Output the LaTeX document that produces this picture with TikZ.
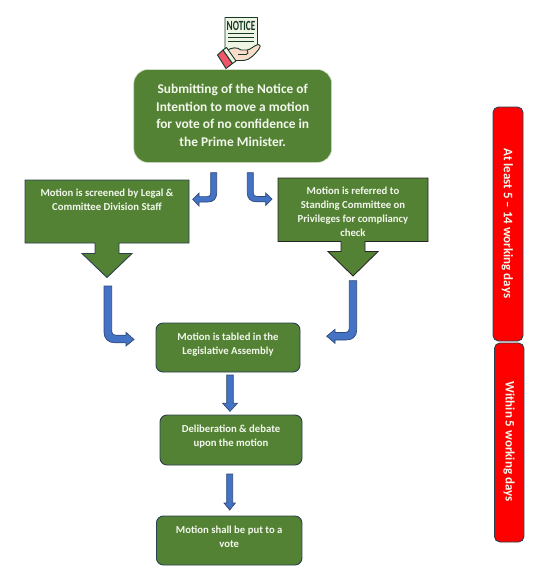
\documentclass[tikz,border=0pt]{standalone}
\usepackage{fontspec}
\setmainfont{Carlito}
\tikzset{
  greenbox/.style={draw=#1,line width=0.9pt,fill=boxgreen},
  greenbox/.default=edgedark,
  boxtext/.style={text=paletext,font=\fontsize{10.7}{14}\selectfont\bfseries,align=center,inner sep=0pt},
  bigtext/.style={text=paletext,font=\fontsize{13.4}{17.4}\selectfont\bfseries,align=center,inner sep=0pt},
  redbox/.style={draw=edgedark,line width=0.9pt,fill=red,rounded corners=5.5pt},
  redtext/.style={text=paletext,font=\fontsize{13}{15}\selectfont\bfseries,inner sep=0pt,rotate=-90},
  bluearrow/.style={fill=arrowblue,draw=arrowedge,line width=0.7pt,line join=miter},
  icon/.style={line width=0.9pt,draw=icondark,line join=round},
}
\definecolor{boxgreen}{HTML}{548235}
\definecolor{edgedark}{HTML}{2A3F4F}
\definecolor{paletext}{HTML}{F2F7EC}
\definecolor{arrowblue}{HTML}{4472C4}
\definecolor{arrowedge}{HTML}{2F4A78}
\definecolor{icondark}{HTML}{16382A}
\definecolor{paper}{HTML}{EEF5E2}
\definecolor{skin}{HTML}{FADCCB}
\definecolor{cuff}{HTML}{F0566A}
\begin{document}
\begin{tikzpicture}[x=1pt,y=-1pt]
\useasboundingbox (0,0) rectangle (547,573);
% notice icon
\draw[icon,fill=paper] (225,17.5) -- (257.5,17.5) -- (257.5,49) -- (238,60) -- (225,52) -- cycle;
\node[inner sep=0pt,text=icondark,font=\fontsize{14}{15}\selectfont\bfseries] (noticelabel) at (241,25.7) {\scalebox{.66}[1]{NOTICE}};
\foreach \yy in {33,37,41}{\draw[icondark,line width=1pt] (228,\yy) -- (254,\yy);}
\draw[icon,fill=skin] (226,51) .. controls (232,47) and (237,47) .. (241,50) -- (247,50)
  .. controls (250,50) and (255,45) .. (258,44.5) .. controls (261,45) and (260.5,47) .. (259,49)
  .. controls (255,54) and (250,60) .. (244,60.5) -- (232,60.5) -- cycle;
\draw[icon] (238,54.5) -- (246,54.5) .. controls (248,54.5) and (249,52) .. (247,50);
\draw[icon,fill=cuff] (217.5,55) -- (223,50) -- (232.5,63.5) -- (226,68.5) -- cycle;
\draw[icon,fill=paper] (223,50) -- (226.5,47.5) -- (236,61) -- (232.5,63.5) -- cycle;
% top box
\node[draw=none,fill=boxgreen,rounded corners=14pt,minimum width=197.5pt,minimum height=92.5pt,inner sep=0pt] (topbox) at (232.7,116) {};
\draw[paletext!70!boxgreen,line width=0.6pt,rounded corners=14pt] (topbox.south west) rectangle (topbox.north east);
\node[bigtext] (toptext) at (232.7,115.4) {Submitting of the Notice of\\Intention to move a motion\\for vote of no confidence in\\the Prime Minister.};
% callouts
\draw[greenbox] (25,180) -- (189,180) -- (189,243) -- (119,243) -- (119,253.5) -- (132,253.5) -- (107,277.5) -- (82,253.5) -- (95,253.5) -- (95,243) -- (25,243) -- cycle;
\node[boxtext] (legal) at (107,199.6) {Motion is screened by Legal \&\\Committee Division Staff};
\draw[greenbox=black!85] (278,178) -- (428,178) -- (428,241.5) -- (365,241.5) -- (365,251.5) -- (378,251.5) -- (353,276) -- (328,251.5) -- (341,251.5) -- (341,241.5) -- (278,241.5) -- cycle;
\node[boxtext] (privileges) at (353,211.4) {Motion is referred to\\Standing Committee on\\Privileges for compliancy\\check};
% lower boxes
\node[greenbox,rounded corners=7pt,minimum width=144pt,minimum height=49pt,inner sep=0pt] (tabled) at (228,347.5) {};
\node[boxtext] at (228,344.6) {Motion is tabled in the\\Legislative Assembly};
\node[greenbox,rounded corners=7pt,minimum width=142pt,minimum height=50pt,inner sep=0pt] (debate) at (231,440) {};
\node[boxtext] at (231,437) {Deliberation \& debate\\upon the motion};
\node[greenbox,rounded corners=7pt,minimum width=145.5pt,minimum height=49pt,inner sep=0pt] (vote) at (229.2,540.5) {};
\node[boxtext] at (229.2,537.2) {Motion shall be put to a\\vote};
% red bars
\node[redbox,minimum width=30pt,minimum height=234pt,inner sep=0pt] (earlybar) at (508,224) {};
\node[redtext] at (507.3,223.5) {At least 5 – 14 working days};
\node[redbox,minimum width=29.5pt,minimum height=199pt,inner sep=0pt] (latebar) at (509.2,442.5) {};
\node[redtext] at (509,441.5) {Within 5 working days};
% blue block arrows
\draw[bluearrow] (210.7,172.7) -- (216.7,172.7) -- (216.7,193) .. controls (216.7,198.5) and (213.5,202) .. (208,202) -- (199,202) -- (199,206) -- (192.7,199.3) -- (199,193) -- (199,196.6) -- (207.5,196.6) .. controls (209.8,196.6) and (210.7,195.5) .. (210.7,193) -- cycle;
\draw[bluearrow] (247.3,172.7) -- (253.3,172.7) -- (253.3,192.5) .. controls (253.3,195.5) and (254.2,196.4) .. (257,196.4) -- (265.7,196.4) -- (265.7,193) -- (272,199) -- (265.7,205.5) -- (265.7,201.8) -- (256.5,201.8) .. controls (250.5,201.8) and (247.3,198.5) .. (247.3,193) -- cycle;
\draw[bluearrow] (104,286) -- (111.7,286) -- (111.7,330) .. controls (111.7,333.8) and (113,335.2) .. (116.5,335.2) -- (126,335.2) -- (126,332.3) -- (134,339.5) -- (126,346) -- (126,342.8) -- (115,342.8) .. controls (108,342.8) and (104,338.5) .. (104,332) -- cycle;
\draw[bluearrow] (349.3,280.7) -- (356.7,280.7) -- (356.7,330) .. controls (356.7,336.5) and (352.5,340) .. (346,340) -- (335,340) -- (335,343.3) -- (326.7,336.2) -- (335,329.3) -- (335,332.4) -- (345.5,332.4) .. controls (348.2,332.4) and (349.3,331) .. (349.3,328.5) -- cycle;
\draw[bluearrow] (226.7,375) -- (233.3,375) -- (233.3,403.3) -- (237.3,403.3) -- (230,411.3) -- (222.7,403.3) -- (226.7,403.3) -- cycle;
\draw[bluearrow] (226.7,474) -- (232.7,474) -- (232.7,503) -- (235.3,503) -- (229.7,510) -- (224,503) -- (226.7,503) -- cycle;
\end{tikzpicture}
\end{document}
